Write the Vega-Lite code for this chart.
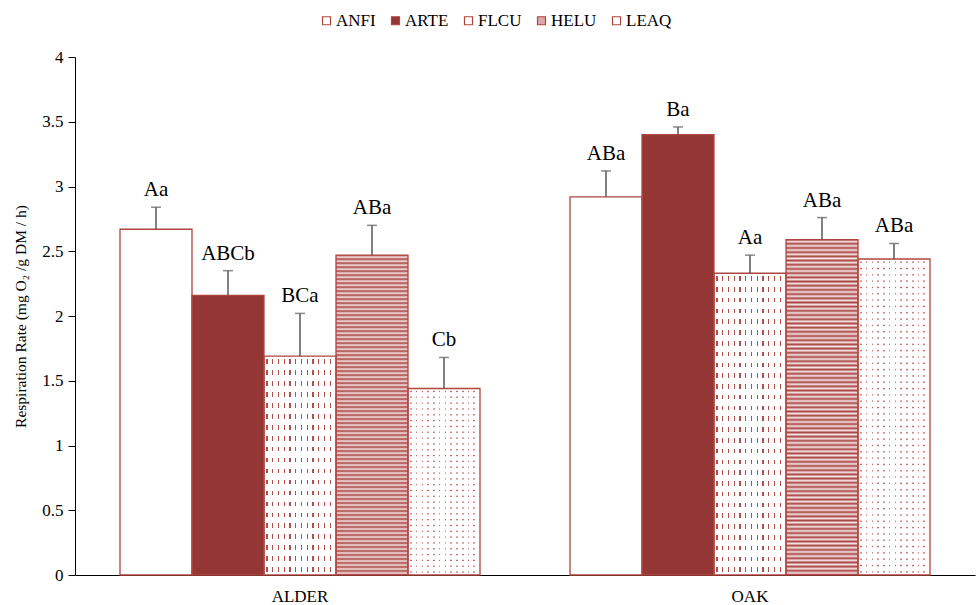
{
"$schema":"https://vega.github.io/schema/vega-lite/v6.json",
"width":900,"height":518,
"autosize":{"type":"none"},
"padding":{"left":75,"top":57,"right":1,"bottom":30},
"background":"#ffffff",
"config":{"view":{"stroke":null},"font":"Liberation Serif, serif","axis":{"labelFont":"Liberation Serif, serif","titleFont":"Liberation Serif, serif"},"legend":{"labelFont":"Liberation Serif, serif"},"text":{"font":"Liberation Serif, serif"}},
"data":{"values":[
{"Category":"ALDER","Species":"ANFI","value":2.67,"upper":2.84,"label":"Aa"},
{"Category":"ALDER","Species":"ARTE","value":2.16,"upper":2.35,"label":"ABCb"},
{"Category":"ALDER","Species":"FLCU","value":1.69,"upper":2.02,"label":"BCa"},
{"Category":"ALDER","Species":"HELU","value":2.47,"upper":2.70,"label":"ABa"},
{"Category":"ALDER","Species":"LEAQ","value":1.44,"upper":1.68,"label":"Cb"},
{"Category":"OAK","Species":"ANFI","value":2.92,"upper":3.12,"label":"ABa"},
{"Category":"OAK","Species":"ARTE","value":3.40,"upper":3.46,"label":"Ba"},
{"Category":"OAK","Species":"FLCU","value":2.33,"upper":2.47,"label":"Aa"},
{"Category":"OAK","Species":"HELU","value":2.59,"upper":2.76,"label":"ABa"},
{"Category":"OAK","Species":"LEAQ","value":2.44,"upper":2.56,"label":"ABa"}
]},
"encoding":{
 "x":{"field":"Category","type":"nominal","scale":{"domain":["ALDER","OAK"],"paddingInner":0.2,"paddingOuter":0.1},"axis":{"title":null,"labelAngle":0,"ticks":false,"domainColor":"#000000","domainWidth":1,"labelFont":"Liberation Serif, serif","labelFontSize":17,"labelColor":"#000000","labelPadding":13}},
 "xOffset":{"field":"Species","type":"nominal","scale":{"domain":["ANFI","ARTE","FLCU","HELU","LEAQ"],"paddingInner":0,"paddingOuter":0}},
 "y":{"field":"value","type":"quantitative","scale":{"domain":[0,4],"nice":false},"axis":{"title":"Respiration Rate (mg O₂ /g DM / h)","values":[0,0.5,1,1.5,2,2.5,3,3.5,4],"format":"~g","grid":false,"domainColor":"#000000","tickColor":"#000000","tickSize":7,"labelFont":"Liberation Serif, serif","labelFontSize":17,"labelColor":"#000000","labelPadding":5,"titleFont":"Liberation Serif, serif","titleFontSize":15.5,"titleFontWeight":"normal","titleColor":"#000000","titlePadding":13}}
},
"layer":[
{"mark":{"type":"bar"},
 "encoding":{"color":{"field":"Species","type":"nominal","scale":{"domain":["ANFI","ARTE","FLCU","HELU","LEAQ"],"range":["#ffffff","#943634","#ffffff","#dba8a8","#ffffff"]},
  "legend":{"orient":"none","legendX":243,"legendY":-45,"direction":"horizontal","title":null,"symbolType":"square","symbolSize":64,"symbolStrokeWidth":1.2,"labelFont":"Liberation Serif, serif","labelFontSize":17,"labelColor":"#000000","columnPadding":11,"labelOffset":1,"padding":0,
   "encode":{"symbols":{"update":{"stroke":{"value":"#b0443f"},"strokeWidth":{"value":1.2}}}}}}}},
{"transform":[{"filter":"datum.Species === 'HELU'"}],
 "mark":{"type":"bar","fill":{"gradient":"linear","x1":0,"y1":0,"x2":0,"y2":1,"stops":[
{"offset":0,"color":"#a94644"},{"offset":0.00625,"color":"#f6e4e4"},{"offset":0.0125,"color":"#a94644"},{"offset":0.01875,"color":"#f6e4e4"},{"offset":0.025,"color":"#a94644"},{"offset":0.03125,"color":"#f6e4e4"},{"offset":0.0375,"color":"#a94644"},{"offset":0.04375,"color":"#f6e4e4"},
{"offset":0.05,"color":"#a94644"},{"offset":0.05625,"color":"#f6e4e4"},{"offset":0.0625,"color":"#a94644"},{"offset":0.06875,"color":"#f6e4e4"},{"offset":0.075,"color":"#a94644"},{"offset":0.08125,"color":"#f6e4e4"},{"offset":0.0875,"color":"#a94644"},{"offset":0.09375,"color":"#f6e4e4"},
{"offset":0.1,"color":"#a94644"},{"offset":0.10625,"color":"#f6e4e4"},{"offset":0.1125,"color":"#a94644"},{"offset":0.11875,"color":"#f6e4e4"},{"offset":0.125,"color":"#a94644"},{"offset":0.13125,"color":"#f6e4e4"},{"offset":0.1375,"color":"#a94644"},{"offset":0.14375,"color":"#f6e4e4"},
{"offset":0.15,"color":"#a94644"},{"offset":0.15625,"color":"#f6e4e4"},{"offset":0.1625,"color":"#a94644"},{"offset":0.16875,"color":"#f6e4e4"},{"offset":0.175,"color":"#a94644"},{"offset":0.18125,"color":"#f6e4e4"},{"offset":0.1875,"color":"#a94644"},{"offset":0.19375,"color":"#f6e4e4"},
{"offset":0.2,"color":"#a94644"},{"offset":0.20625,"color":"#f6e4e4"},{"offset":0.2125,"color":"#a94644"},{"offset":0.21875,"color":"#f6e4e4"},{"offset":0.225,"color":"#a94644"},{"offset":0.23125,"color":"#f6e4e4"},{"offset":0.2375,"color":"#a94644"},{"offset":0.24375,"color":"#f6e4e4"},
{"offset":0.25,"color":"#a94644"},{"offset":0.25625,"color":"#f6e4e4"},{"offset":0.2625,"color":"#a94644"},{"offset":0.26875,"color":"#f6e4e4"},{"offset":0.275,"color":"#a94644"},{"offset":0.28125,"color":"#f6e4e4"},{"offset":0.2875,"color":"#a94644"},{"offset":0.29375,"color":"#f6e4e4"},
{"offset":0.3,"color":"#a94644"},{"offset":0.30625,"color":"#f6e4e4"},{"offset":0.3125,"color":"#a94644"},{"offset":0.31875,"color":"#f6e4e4"},{"offset":0.325,"color":"#a94644"},{"offset":0.33125,"color":"#f6e4e4"},{"offset":0.3375,"color":"#a94644"},{"offset":0.34375,"color":"#f6e4e4"},
{"offset":0.35,"color":"#a94644"},{"offset":0.35625,"color":"#f6e4e4"},{"offset":0.3625,"color":"#a94644"},{"offset":0.36875,"color":"#f6e4e4"},{"offset":0.375,"color":"#a94644"},{"offset":0.38125,"color":"#f6e4e4"},{"offset":0.3875,"color":"#a94644"},{"offset":0.39375,"color":"#f6e4e4"},
{"offset":0.4,"color":"#a94644"},{"offset":0.40625,"color":"#f6e4e4"},{"offset":0.4125,"color":"#a94644"},{"offset":0.41875,"color":"#f6e4e4"},{"offset":0.425,"color":"#a94644"},{"offset":0.43125,"color":"#f6e4e4"},{"offset":0.4375,"color":"#a94644"},{"offset":0.44375,"color":"#f6e4e4"},
{"offset":0.45,"color":"#a94644"},{"offset":0.45625,"color":"#f6e4e4"},{"offset":0.4625,"color":"#a94644"},{"offset":0.46875,"color":"#f6e4e4"},{"offset":0.475,"color":"#a94644"},{"offset":0.48125,"color":"#f6e4e4"},{"offset":0.4875,"color":"#a94644"},{"offset":0.49375,"color":"#f6e4e4"},
{"offset":0.5,"color":"#a94644"},{"offset":0.50625,"color":"#f6e4e4"},{"offset":0.5125,"color":"#a94644"},{"offset":0.51875,"color":"#f6e4e4"},{"offset":0.525,"color":"#a94644"},{"offset":0.53125,"color":"#f6e4e4"},{"offset":0.5375,"color":"#a94644"},{"offset":0.54375,"color":"#f6e4e4"},
{"offset":0.55,"color":"#a94644"},{"offset":0.55625,"color":"#f6e4e4"},{"offset":0.5625,"color":"#a94644"},{"offset":0.56875,"color":"#f6e4e4"},{"offset":0.575,"color":"#a94644"},{"offset":0.58125,"color":"#f6e4e4"},{"offset":0.5875,"color":"#a94644"},{"offset":0.59375,"color":"#f6e4e4"},
{"offset":0.6,"color":"#a94644"},{"offset":0.60625,"color":"#f6e4e4"},{"offset":0.6125,"color":"#a94644"},{"offset":0.61875,"color":"#f6e4e4"},{"offset":0.625,"color":"#a94644"},{"offset":0.63125,"color":"#f6e4e4"},{"offset":0.6375,"color":"#a94644"},{"offset":0.64375,"color":"#f6e4e4"},
{"offset":0.65,"color":"#a94644"},{"offset":0.65625,"color":"#f6e4e4"},{"offset":0.6625,"color":"#a94644"},{"offset":0.66875,"color":"#f6e4e4"},{"offset":0.675,"color":"#a94644"},{"offset":0.68125,"color":"#f6e4e4"},{"offset":0.6875,"color":"#a94644"},{"offset":0.69375,"color":"#f6e4e4"},
{"offset":0.7,"color":"#a94644"},{"offset":0.70625,"color":"#f6e4e4"},{"offset":0.7125,"color":"#a94644"},{"offset":0.71875,"color":"#f6e4e4"},{"offset":0.725,"color":"#a94644"},{"offset":0.73125,"color":"#f6e4e4"},{"offset":0.7375,"color":"#a94644"},{"offset":0.74375,"color":"#f6e4e4"},
{"offset":0.75,"color":"#a94644"},{"offset":0.75625,"color":"#f6e4e4"},{"offset":0.7625,"color":"#a94644"},{"offset":0.76875,"color":"#f6e4e4"},{"offset":0.775,"color":"#a94644"},{"offset":0.78125,"color":"#f6e4e4"},{"offset":0.7875,"color":"#a94644"},{"offset":0.79375,"color":"#f6e4e4"},
{"offset":0.8,"color":"#a94644"},{"offset":0.80625,"color":"#f6e4e4"},{"offset":0.8125,"color":"#a94644"},{"offset":0.81875,"color":"#f6e4e4"},{"offset":0.825,"color":"#a94644"},{"offset":0.83125,"color":"#f6e4e4"},{"offset":0.8375,"color":"#a94644"},{"offset":0.84375,"color":"#f6e4e4"},
{"offset":0.85,"color":"#a94644"},{"offset":0.85625,"color":"#f6e4e4"},{"offset":0.8625,"color":"#a94644"},{"offset":0.86875,"color":"#f6e4e4"},{"offset":0.875,"color":"#a94644"},{"offset":0.88125,"color":"#f6e4e4"},{"offset":0.8875,"color":"#a94644"},{"offset":0.89375,"color":"#f6e4e4"},
{"offset":0.9,"color":"#a94644"},{"offset":0.90625,"color":"#f6e4e4"},{"offset":0.9125,"color":"#a94644"},{"offset":0.91875,"color":"#f6e4e4"},{"offset":0.925,"color":"#a94644"},{"offset":0.93125,"color":"#f6e4e4"},{"offset":0.9375,"color":"#a94644"},{"offset":0.94375,"color":"#f6e4e4"},
{"offset":0.95,"color":"#a94644"},{"offset":0.95625,"color":"#f6e4e4"},{"offset":0.9625,"color":"#a94644"},{"offset":0.96875,"color":"#f6e4e4"},{"offset":0.975,"color":"#a94644"},{"offset":0.98125,"color":"#f6e4e4"},{"offset":0.9875,"color":"#a94644"},{"offset":0.99375,"color":"#f6e4e4"},
{"offset":1,"color":"#a94644"}]}}},
{"transform":[{"filter":"datum.Species === 'FLCU'"}],
 "mark":{"type":"bar","fill":{"gradient":"linear","x1":0,"y1":0,"x2":1,"y2":0,"stops":[
{"offset":0,"color":"#ffffff"},
{"offset":0.031,"color":"#ffffff"},{"offset":0.031,"color":"#b0504e"},{"offset":0.049,"color":"#b0504e"},{"offset":0.049,"color":"#ffffff"},
{"offset":0.111,"color":"#ffffff"},{"offset":0.111,"color":"#b0504e"},{"offset":0.129,"color":"#b0504e"},{"offset":0.129,"color":"#ffffff"},
{"offset":0.191,"color":"#ffffff"},{"offset":0.191,"color":"#b0504e"},{"offset":0.209,"color":"#b0504e"},{"offset":0.209,"color":"#ffffff"},
{"offset":0.271,"color":"#ffffff"},{"offset":0.271,"color":"#b0504e"},{"offset":0.289,"color":"#b0504e"},{"offset":0.289,"color":"#ffffff"},
{"offset":0.351,"color":"#ffffff"},{"offset":0.351,"color":"#b0504e"},{"offset":0.369,"color":"#b0504e"},{"offset":0.369,"color":"#ffffff"},
{"offset":0.431,"color":"#ffffff"},{"offset":0.431,"color":"#b0504e"},{"offset":0.449,"color":"#b0504e"},{"offset":0.449,"color":"#ffffff"},
{"offset":0.511,"color":"#ffffff"},{"offset":0.511,"color":"#b0504e"},{"offset":0.529,"color":"#b0504e"},{"offset":0.529,"color":"#ffffff"},
{"offset":0.591,"color":"#ffffff"},{"offset":0.591,"color":"#b0504e"},{"offset":0.609,"color":"#b0504e"},{"offset":0.609,"color":"#ffffff"},
{"offset":0.671,"color":"#ffffff"},{"offset":0.671,"color":"#b0504e"},{"offset":0.689,"color":"#b0504e"},{"offset":0.689,"color":"#ffffff"},
{"offset":0.751,"color":"#ffffff"},{"offset":0.751,"color":"#b0504e"},{"offset":0.769,"color":"#b0504e"},{"offset":0.769,"color":"#ffffff"},
{"offset":0.831,"color":"#ffffff"},{"offset":0.831,"color":"#b0504e"},{"offset":0.849,"color":"#b0504e"},{"offset":0.849,"color":"#ffffff"},
{"offset":0.911,"color":"#ffffff"},{"offset":0.911,"color":"#b0504e"},{"offset":0.929,"color":"#b0504e"},{"offset":0.929,"color":"#ffffff"},
{"offset":1,"color":"#ffffff"}]}}},
{"transform":[{"filter":"datum.Species === 'LEAQ'"}],
 "mark":{"type":"bar","fill":{"gradient":"linear","x1":0,"y1":0,"x2":1,"y2":0,"stops":[
{"offset":0,"color":"#ffffff"},
{"offset":0.029,"color":"#ffffff"},{"offset":0.029,"color":"#c46664"},{"offset":0.051,"color":"#c46664"},{"offset":0.051,"color":"#ffffff"},
{"offset":0.109,"color":"#ffffff"},{"offset":0.109,"color":"#c46664"},{"offset":0.131,"color":"#c46664"},{"offset":0.131,"color":"#ffffff"},
{"offset":0.189,"color":"#ffffff"},{"offset":0.189,"color":"#c46664"},{"offset":0.211,"color":"#c46664"},{"offset":0.211,"color":"#ffffff"},
{"offset":0.269,"color":"#ffffff"},{"offset":0.269,"color":"#c46664"},{"offset":0.291,"color":"#c46664"},{"offset":0.291,"color":"#ffffff"},
{"offset":0.349,"color":"#ffffff"},{"offset":0.349,"color":"#c46664"},{"offset":0.371,"color":"#c46664"},{"offset":0.371,"color":"#ffffff"},
{"offset":0.429,"color":"#ffffff"},{"offset":0.429,"color":"#c46664"},{"offset":0.451,"color":"#c46664"},{"offset":0.451,"color":"#ffffff"},
{"offset":0.509,"color":"#ffffff"},{"offset":0.509,"color":"#c46664"},{"offset":0.531,"color":"#c46664"},{"offset":0.531,"color":"#ffffff"},
{"offset":0.589,"color":"#ffffff"},{"offset":0.589,"color":"#c46664"},{"offset":0.611,"color":"#c46664"},{"offset":0.611,"color":"#ffffff"},
{"offset":0.669,"color":"#ffffff"},{"offset":0.669,"color":"#c46664"},{"offset":0.691,"color":"#c46664"},{"offset":0.691,"color":"#ffffff"},
{"offset":0.749,"color":"#ffffff"},{"offset":0.749,"color":"#c46664"},{"offset":0.771,"color":"#c46664"},{"offset":0.771,"color":"#ffffff"},
{"offset":0.829,"color":"#ffffff"},{"offset":0.829,"color":"#c46664"},{"offset":0.851,"color":"#c46664"},{"offset":0.851,"color":"#ffffff"},
{"offset":0.909,"color":"#ffffff"},{"offset":0.909,"color":"#c46664"},{"offset":0.931,"color":"#c46664"},{"offset":0.931,"color":"#ffffff"},
{"offset":1,"color":"#ffffff"}]}}},
{"transform":[{"filter":"datum.Species === 'FLCU' && datum.Category === 'ALDER'"}],
 "mark":{"type":"bar","fill":{"gradient":"linear","x1":0,"y1":0,"x2":0,"y2":1,"stops":[
{"offset":0,"color":"#ffffff"},
{"offset":0.0145,"color":"#ffffff"},{"offset":0.0145,"color":"rgba(255,255,255,0)"},{"offset":0.0355,"color":"rgba(255,255,255,0)"},{"offset":0.0355,"color":"#ffffff"},
{"offset":0.0645,"color":"#ffffff"},{"offset":0.0645,"color":"rgba(255,255,255,0)"},{"offset":0.0855,"color":"rgba(255,255,255,0)"},{"offset":0.0855,"color":"#ffffff"},
{"offset":0.1145,"color":"#ffffff"},{"offset":0.1145,"color":"rgba(255,255,255,0)"},{"offset":0.1355,"color":"rgba(255,255,255,0)"},{"offset":0.1355,"color":"#ffffff"},
{"offset":0.1645,"color":"#ffffff"},{"offset":0.1645,"color":"rgba(255,255,255,0)"},{"offset":0.1855,"color":"rgba(255,255,255,0)"},{"offset":0.1855,"color":"#ffffff"},
{"offset":0.2145,"color":"#ffffff"},{"offset":0.2145,"color":"rgba(255,255,255,0)"},{"offset":0.2355,"color":"rgba(255,255,255,0)"},{"offset":0.2355,"color":"#ffffff"},
{"offset":0.2645,"color":"#ffffff"},{"offset":0.2645,"color":"rgba(255,255,255,0)"},{"offset":0.2855,"color":"rgba(255,255,255,0)"},{"offset":0.2855,"color":"#ffffff"},
{"offset":0.3145,"color":"#ffffff"},{"offset":0.3145,"color":"rgba(255,255,255,0)"},{"offset":0.3355,"color":"rgba(255,255,255,0)"},{"offset":0.3355,"color":"#ffffff"},
{"offset":0.3645,"color":"#ffffff"},{"offset":0.3645,"color":"rgba(255,255,255,0)"},{"offset":0.3855,"color":"rgba(255,255,255,0)"},{"offset":0.3855,"color":"#ffffff"},
{"offset":0.4145,"color":"#ffffff"},{"offset":0.4145,"color":"rgba(255,255,255,0)"},{"offset":0.4355,"color":"rgba(255,255,255,0)"},{"offset":0.4355,"color":"#ffffff"},
{"offset":0.4645,"color":"#ffffff"},{"offset":0.4645,"color":"rgba(255,255,255,0)"},{"offset":0.4855,"color":"rgba(255,255,255,0)"},{"offset":0.4855,"color":"#ffffff"},
{"offset":0.5145,"color":"#ffffff"},{"offset":0.5145,"color":"rgba(255,255,255,0)"},{"offset":0.5355,"color":"rgba(255,255,255,0)"},{"offset":0.5355,"color":"#ffffff"},
{"offset":0.5645,"color":"#ffffff"},{"offset":0.5645,"color":"rgba(255,255,255,0)"},{"offset":0.5855,"color":"rgba(255,255,255,0)"},{"offset":0.5855,"color":"#ffffff"},
{"offset":0.6145,"color":"#ffffff"},{"offset":0.6145,"color":"rgba(255,255,255,0)"},{"offset":0.6355,"color":"rgba(255,255,255,0)"},{"offset":0.6355,"color":"#ffffff"},
{"offset":0.6645,"color":"#ffffff"},{"offset":0.6645,"color":"rgba(255,255,255,0)"},{"offset":0.6855,"color":"rgba(255,255,255,0)"},{"offset":0.6855,"color":"#ffffff"},
{"offset":0.7145,"color":"#ffffff"},{"offset":0.7145,"color":"rgba(255,255,255,0)"},{"offset":0.7355,"color":"rgba(255,255,255,0)"},{"offset":0.7355,"color":"#ffffff"},
{"offset":0.7645,"color":"#ffffff"},{"offset":0.7645,"color":"rgba(255,255,255,0)"},{"offset":0.7855,"color":"rgba(255,255,255,0)"},{"offset":0.7855,"color":"#ffffff"},
{"offset":0.8145,"color":"#ffffff"},{"offset":0.8145,"color":"rgba(255,255,255,0)"},{"offset":0.8355,"color":"rgba(255,255,255,0)"},{"offset":0.8355,"color":"#ffffff"},
{"offset":0.8645,"color":"#ffffff"},{"offset":0.8645,"color":"rgba(255,255,255,0)"},{"offset":0.8855,"color":"rgba(255,255,255,0)"},{"offset":0.8855,"color":"#ffffff"},
{"offset":0.9145,"color":"#ffffff"},{"offset":0.9145,"color":"rgba(255,255,255,0)"},{"offset":0.9355,"color":"rgba(255,255,255,0)"},{"offset":0.9355,"color":"#ffffff"},
{"offset":0.9645,"color":"#ffffff"},{"offset":0.9645,"color":"rgba(255,255,255,0)"},{"offset":0.9855,"color":"rgba(255,255,255,0)"},{"offset":0.9855,"color":"#ffffff"},
{"offset":1,"color":"#ffffff"}]}}},
{"transform":[{"filter":"datum.Species === 'FLCU' && datum.Category === 'OAK'"}],
 "mark":{"type":"bar","fill":{"gradient":"linear","x1":0,"y1":0,"x2":0,"y2":1,"stops":[
{"offset":0,"color":"#ffffff"},
{"offset":0.0104,"color":"#ffffff"},{"offset":0.0104,"color":"rgba(255,255,255,0)"},{"offset":0.0254,"color":"rgba(255,255,255,0)"},{"offset":0.0254,"color":"#ffffff"},
{"offset":0.0461,"color":"#ffffff"},{"offset":0.0461,"color":"rgba(255,255,255,0)"},{"offset":0.0611,"color":"rgba(255,255,255,0)"},{"offset":0.0611,"color":"#ffffff"},
{"offset":0.0818,"color":"#ffffff"},{"offset":0.0818,"color":"rgba(255,255,255,0)"},{"offset":0.0968,"color":"rgba(255,255,255,0)"},{"offset":0.0968,"color":"#ffffff"},
{"offset":0.1175,"color":"#ffffff"},{"offset":0.1175,"color":"rgba(255,255,255,0)"},{"offset":0.1325,"color":"rgba(255,255,255,0)"},{"offset":0.1325,"color":"#ffffff"},
{"offset":0.1532,"color":"#ffffff"},{"offset":0.1532,"color":"rgba(255,255,255,0)"},{"offset":0.1682,"color":"rgba(255,255,255,0)"},{"offset":0.1682,"color":"#ffffff"},
{"offset":0.1889,"color":"#ffffff"},{"offset":0.1889,"color":"rgba(255,255,255,0)"},{"offset":0.2039,"color":"rgba(255,255,255,0)"},{"offset":0.2039,"color":"#ffffff"},
{"offset":0.2246,"color":"#ffffff"},{"offset":0.2246,"color":"rgba(255,255,255,0)"},{"offset":0.2396,"color":"rgba(255,255,255,0)"},{"offset":0.2396,"color":"#ffffff"},
{"offset":0.2604,"color":"#ffffff"},{"offset":0.2604,"color":"rgba(255,255,255,0)"},{"offset":0.2754,"color":"rgba(255,255,255,0)"},{"offset":0.2754,"color":"#ffffff"},
{"offset":0.2961,"color":"#ffffff"},{"offset":0.2961,"color":"rgba(255,255,255,0)"},{"offset":0.3111,"color":"rgba(255,255,255,0)"},{"offset":0.3111,"color":"#ffffff"},
{"offset":0.3318,"color":"#ffffff"},{"offset":0.3318,"color":"rgba(255,255,255,0)"},{"offset":0.3468,"color":"rgba(255,255,255,0)"},{"offset":0.3468,"color":"#ffffff"},
{"offset":0.3675,"color":"#ffffff"},{"offset":0.3675,"color":"rgba(255,255,255,0)"},{"offset":0.3825,"color":"rgba(255,255,255,0)"},{"offset":0.3825,"color":"#ffffff"},
{"offset":0.4032,"color":"#ffffff"},{"offset":0.4032,"color":"rgba(255,255,255,0)"},{"offset":0.4182,"color":"rgba(255,255,255,0)"},{"offset":0.4182,"color":"#ffffff"},
{"offset":0.4389,"color":"#ffffff"},{"offset":0.4389,"color":"rgba(255,255,255,0)"},{"offset":0.4539,"color":"rgba(255,255,255,0)"},{"offset":0.4539,"color":"#ffffff"},
{"offset":0.4746,"color":"#ffffff"},{"offset":0.4746,"color":"rgba(255,255,255,0)"},{"offset":0.4896,"color":"rgba(255,255,255,0)"},{"offset":0.4896,"color":"#ffffff"},
{"offset":0.5104,"color":"#ffffff"},{"offset":0.5104,"color":"rgba(255,255,255,0)"},{"offset":0.5254,"color":"rgba(255,255,255,0)"},{"offset":0.5254,"color":"#ffffff"},
{"offset":0.5461,"color":"#ffffff"},{"offset":0.5461,"color":"rgba(255,255,255,0)"},{"offset":0.5611,"color":"rgba(255,255,255,0)"},{"offset":0.5611,"color":"#ffffff"},
{"offset":0.5818,"color":"#ffffff"},{"offset":0.5818,"color":"rgba(255,255,255,0)"},{"offset":0.5968,"color":"rgba(255,255,255,0)"},{"offset":0.5968,"color":"#ffffff"},
{"offset":0.6175,"color":"#ffffff"},{"offset":0.6175,"color":"rgba(255,255,255,0)"},{"offset":0.6325,"color":"rgba(255,255,255,0)"},{"offset":0.6325,"color":"#ffffff"},
{"offset":0.6532,"color":"#ffffff"},{"offset":0.6532,"color":"rgba(255,255,255,0)"},{"offset":0.6682,"color":"rgba(255,255,255,0)"},{"offset":0.6682,"color":"#ffffff"},
{"offset":0.6889,"color":"#ffffff"},{"offset":0.6889,"color":"rgba(255,255,255,0)"},{"offset":0.7039,"color":"rgba(255,255,255,0)"},{"offset":0.7039,"color":"#ffffff"},
{"offset":0.7246,"color":"#ffffff"},{"offset":0.7246,"color":"rgba(255,255,255,0)"},{"offset":0.7396,"color":"rgba(255,255,255,0)"},{"offset":0.7396,"color":"#ffffff"},
{"offset":0.7604,"color":"#ffffff"},{"offset":0.7604,"color":"rgba(255,255,255,0)"},{"offset":0.7754,"color":"rgba(255,255,255,0)"},{"offset":0.7754,"color":"#ffffff"},
{"offset":0.7961,"color":"#ffffff"},{"offset":0.7961,"color":"rgba(255,255,255,0)"},{"offset":0.8111,"color":"rgba(255,255,255,0)"},{"offset":0.8111,"color":"#ffffff"},
{"offset":0.8318,"color":"#ffffff"},{"offset":0.8318,"color":"rgba(255,255,255,0)"},{"offset":0.8468,"color":"rgba(255,255,255,0)"},{"offset":0.8468,"color":"#ffffff"},
{"offset":0.8675,"color":"#ffffff"},{"offset":0.8675,"color":"rgba(255,255,255,0)"},{"offset":0.8825,"color":"rgba(255,255,255,0)"},{"offset":0.8825,"color":"#ffffff"},
{"offset":0.9032,"color":"#ffffff"},{"offset":0.9032,"color":"rgba(255,255,255,0)"},{"offset":0.9182,"color":"rgba(255,255,255,0)"},{"offset":0.9182,"color":"#ffffff"},
{"offset":0.9389,"color":"#ffffff"},{"offset":0.9389,"color":"rgba(255,255,255,0)"},{"offset":0.9539,"color":"rgba(255,255,255,0)"},{"offset":0.9539,"color":"#ffffff"},
{"offset":0.9746,"color":"#ffffff"},{"offset":0.9746,"color":"rgba(255,255,255,0)"},{"offset":0.9896,"color":"rgba(255,255,255,0)"},{"offset":0.9896,"color":"#ffffff"},
{"offset":1,"color":"#ffffff"}]}}},
{"transform":[{"filter":"datum.Species === 'LEAQ' && datum.Category === 'ALDER'"}],
 "mark":{"type":"bar","fill":{"gradient":"linear","x1":0,"y1":0,"x2":0,"y2":1,"stops":[
{"offset":0,"color":"#ffffff"},
{"offset":0.0094,"color":"#ffffff"},{"offset":0.0156,"color":"rgba(255,255,255,0)"},{"offset":0.0219,"color":"#ffffff"},
{"offset":0.0406,"color":"#ffffff"},{"offset":0.0469,"color":"rgba(255,255,255,0)"},{"offset":0.0531,"color":"#ffffff"},
{"offset":0.0719,"color":"#ffffff"},{"offset":0.0781,"color":"rgba(255,255,255,0)"},{"offset":0.0844,"color":"#ffffff"},
{"offset":0.1031,"color":"#ffffff"},{"offset":0.1094,"color":"rgba(255,255,255,0)"},{"offset":0.1156,"color":"#ffffff"},
{"offset":0.1344,"color":"#ffffff"},{"offset":0.1406,"color":"rgba(255,255,255,0)"},{"offset":0.1469,"color":"#ffffff"},
{"offset":0.1656,"color":"#ffffff"},{"offset":0.1719,"color":"rgba(255,255,255,0)"},{"offset":0.1781,"color":"#ffffff"},
{"offset":0.1969,"color":"#ffffff"},{"offset":0.2031,"color":"rgba(255,255,255,0)"},{"offset":0.2094,"color":"#ffffff"},
{"offset":0.2281,"color":"#ffffff"},{"offset":0.2344,"color":"rgba(255,255,255,0)"},{"offset":0.2406,"color":"#ffffff"},
{"offset":0.2594,"color":"#ffffff"},{"offset":0.2656,"color":"rgba(255,255,255,0)"},{"offset":0.2719,"color":"#ffffff"},
{"offset":0.2906,"color":"#ffffff"},{"offset":0.2969,"color":"rgba(255,255,255,0)"},{"offset":0.3031,"color":"#ffffff"},
{"offset":0.3219,"color":"#ffffff"},{"offset":0.3281,"color":"rgba(255,255,255,0)"},{"offset":0.3344,"color":"#ffffff"},
{"offset":0.3531,"color":"#ffffff"},{"offset":0.3594,"color":"rgba(255,255,255,0)"},{"offset":0.3656,"color":"#ffffff"},
{"offset":0.3844,"color":"#ffffff"},{"offset":0.3906,"color":"rgba(255,255,255,0)"},{"offset":0.3969,"color":"#ffffff"},
{"offset":0.4156,"color":"#ffffff"},{"offset":0.4219,"color":"rgba(255,255,255,0)"},{"offset":0.4281,"color":"#ffffff"},
{"offset":0.4469,"color":"#ffffff"},{"offset":0.4531,"color":"rgba(255,255,255,0)"},{"offset":0.4594,"color":"#ffffff"},
{"offset":0.4781,"color":"#ffffff"},{"offset":0.4844,"color":"rgba(255,255,255,0)"},{"offset":0.4906,"color":"#ffffff"},
{"offset":0.5094,"color":"#ffffff"},{"offset":0.5156,"color":"rgba(255,255,255,0)"},{"offset":0.5219,"color":"#ffffff"},
{"offset":0.5406,"color":"#ffffff"},{"offset":0.5469,"color":"rgba(255,255,255,0)"},{"offset":0.5531,"color":"#ffffff"},
{"offset":0.5719,"color":"#ffffff"},{"offset":0.5781,"color":"rgba(255,255,255,0)"},{"offset":0.5844,"color":"#ffffff"},
{"offset":0.6031,"color":"#ffffff"},{"offset":0.6094,"color":"rgba(255,255,255,0)"},{"offset":0.6156,"color":"#ffffff"},
{"offset":0.6344,"color":"#ffffff"},{"offset":0.6406,"color":"rgba(255,255,255,0)"},{"offset":0.6469,"color":"#ffffff"},
{"offset":0.6656,"color":"#ffffff"},{"offset":0.6719,"color":"rgba(255,255,255,0)"},{"offset":0.6781,"color":"#ffffff"},
{"offset":0.6969,"color":"#ffffff"},{"offset":0.7031,"color":"rgba(255,255,255,0)"},{"offset":0.7094,"color":"#ffffff"},
{"offset":0.7281,"color":"#ffffff"},{"offset":0.7344,"color":"rgba(255,255,255,0)"},{"offset":0.7406,"color":"#ffffff"},
{"offset":0.7594,"color":"#ffffff"},{"offset":0.7656,"color":"rgba(255,255,255,0)"},{"offset":0.7719,"color":"#ffffff"},
{"offset":0.7906,"color":"#ffffff"},{"offset":0.7969,"color":"rgba(255,255,255,0)"},{"offset":0.8031,"color":"#ffffff"},
{"offset":0.8219,"color":"#ffffff"},{"offset":0.8281,"color":"rgba(255,255,255,0)"},{"offset":0.8344,"color":"#ffffff"},
{"offset":0.8531,"color":"#ffffff"},{"offset":0.8594,"color":"rgba(255,255,255,0)"},{"offset":0.8656,"color":"#ffffff"},
{"offset":0.8844,"color":"#ffffff"},{"offset":0.8906,"color":"rgba(255,255,255,0)"},{"offset":0.8969,"color":"#ffffff"},
{"offset":0.9156,"color":"#ffffff"},{"offset":0.9219,"color":"rgba(255,255,255,0)"},{"offset":0.9281,"color":"#ffffff"},
{"offset":0.9469,"color":"#ffffff"},{"offset":0.9531,"color":"rgba(255,255,255,0)"},{"offset":0.9594,"color":"#ffffff"},
{"offset":0.9781,"color":"#ffffff"},{"offset":0.9844,"color":"rgba(255,255,255,0)"},{"offset":0.9906,"color":"#ffffff"},
{"offset":1,"color":"#ffffff"}]}}},
{"transform":[{"filter":"datum.Species === 'LEAQ' && datum.Category === 'OAK'"}],
 "mark":{"type":"bar","fill":{"gradient":"linear","x1":0,"y1":0,"x2":0,"y2":1,"stops":[
{"offset":0,"color":"#ffffff"},
{"offset":0.006,"color":"#ffffff"},{"offset":0.01,"color":"rgba(255,255,255,0)"},{"offset":0.014,"color":"#ffffff"},
{"offset":0.026,"color":"#ffffff"},{"offset":0.03,"color":"rgba(255,255,255,0)"},{"offset":0.034,"color":"#ffffff"},
{"offset":0.046,"color":"#ffffff"},{"offset":0.05,"color":"rgba(255,255,255,0)"},{"offset":0.054,"color":"#ffffff"},
{"offset":0.066,"color":"#ffffff"},{"offset":0.07,"color":"rgba(255,255,255,0)"},{"offset":0.074,"color":"#ffffff"},
{"offset":0.086,"color":"#ffffff"},{"offset":0.09,"color":"rgba(255,255,255,0)"},{"offset":0.094,"color":"#ffffff"},
{"offset":0.106,"color":"#ffffff"},{"offset":0.11,"color":"rgba(255,255,255,0)"},{"offset":0.114,"color":"#ffffff"},
{"offset":0.126,"color":"#ffffff"},{"offset":0.13,"color":"rgba(255,255,255,0)"},{"offset":0.134,"color":"#ffffff"},
{"offset":0.146,"color":"#ffffff"},{"offset":0.15,"color":"rgba(255,255,255,0)"},{"offset":0.154,"color":"#ffffff"},
{"offset":0.166,"color":"#ffffff"},{"offset":0.17,"color":"rgba(255,255,255,0)"},{"offset":0.174,"color":"#ffffff"},
{"offset":0.186,"color":"#ffffff"},{"offset":0.19,"color":"rgba(255,255,255,0)"},{"offset":0.194,"color":"#ffffff"},
{"offset":0.206,"color":"#ffffff"},{"offset":0.21,"color":"rgba(255,255,255,0)"},{"offset":0.214,"color":"#ffffff"},
{"offset":0.226,"color":"#ffffff"},{"offset":0.23,"color":"rgba(255,255,255,0)"},{"offset":0.234,"color":"#ffffff"},
{"offset":0.246,"color":"#ffffff"},{"offset":0.25,"color":"rgba(255,255,255,0)"},{"offset":0.254,"color":"#ffffff"},
{"offset":0.266,"color":"#ffffff"},{"offset":0.27,"color":"rgba(255,255,255,0)"},{"offset":0.274,"color":"#ffffff"},
{"offset":0.286,"color":"#ffffff"},{"offset":0.29,"color":"rgba(255,255,255,0)"},{"offset":0.294,"color":"#ffffff"},
{"offset":0.306,"color":"#ffffff"},{"offset":0.31,"color":"rgba(255,255,255,0)"},{"offset":0.314,"color":"#ffffff"},
{"offset":0.326,"color":"#ffffff"},{"offset":0.33,"color":"rgba(255,255,255,0)"},{"offset":0.334,"color":"#ffffff"},
{"offset":0.346,"color":"#ffffff"},{"offset":0.35,"color":"rgba(255,255,255,0)"},{"offset":0.354,"color":"#ffffff"},
{"offset":0.366,"color":"#ffffff"},{"offset":0.37,"color":"rgba(255,255,255,0)"},{"offset":0.374,"color":"#ffffff"},
{"offset":0.386,"color":"#ffffff"},{"offset":0.39,"color":"rgba(255,255,255,0)"},{"offset":0.394,"color":"#ffffff"},
{"offset":0.406,"color":"#ffffff"},{"offset":0.41,"color":"rgba(255,255,255,0)"},{"offset":0.414,"color":"#ffffff"},
{"offset":0.426,"color":"#ffffff"},{"offset":0.43,"color":"rgba(255,255,255,0)"},{"offset":0.434,"color":"#ffffff"},
{"offset":0.446,"color":"#ffffff"},{"offset":0.45,"color":"rgba(255,255,255,0)"},{"offset":0.454,"color":"#ffffff"},
{"offset":0.466,"color":"#ffffff"},{"offset":0.47,"color":"rgba(255,255,255,0)"},{"offset":0.474,"color":"#ffffff"},
{"offset":0.486,"color":"#ffffff"},{"offset":0.49,"color":"rgba(255,255,255,0)"},{"offset":0.494,"color":"#ffffff"},
{"offset":0.506,"color":"#ffffff"},{"offset":0.51,"color":"rgba(255,255,255,0)"},{"offset":0.514,"color":"#ffffff"},
{"offset":0.526,"color":"#ffffff"},{"offset":0.53,"color":"rgba(255,255,255,0)"},{"offset":0.534,"color":"#ffffff"},
{"offset":0.546,"color":"#ffffff"},{"offset":0.55,"color":"rgba(255,255,255,0)"},{"offset":0.554,"color":"#ffffff"},
{"offset":0.566,"color":"#ffffff"},{"offset":0.57,"color":"rgba(255,255,255,0)"},{"offset":0.574,"color":"#ffffff"},
{"offset":0.586,"color":"#ffffff"},{"offset":0.59,"color":"rgba(255,255,255,0)"},{"offset":0.594,"color":"#ffffff"},
{"offset":0.606,"color":"#ffffff"},{"offset":0.61,"color":"rgba(255,255,255,0)"},{"offset":0.614,"color":"#ffffff"},
{"offset":0.626,"color":"#ffffff"},{"offset":0.63,"color":"rgba(255,255,255,0)"},{"offset":0.634,"color":"#ffffff"},
{"offset":0.646,"color":"#ffffff"},{"offset":0.65,"color":"rgba(255,255,255,0)"},{"offset":0.654,"color":"#ffffff"},
{"offset":0.666,"color":"#ffffff"},{"offset":0.67,"color":"rgba(255,255,255,0)"},{"offset":0.674,"color":"#ffffff"},
{"offset":0.686,"color":"#ffffff"},{"offset":0.69,"color":"rgba(255,255,255,0)"},{"offset":0.694,"color":"#ffffff"},
{"offset":0.706,"color":"#ffffff"},{"offset":0.71,"color":"rgba(255,255,255,0)"},{"offset":0.714,"color":"#ffffff"},
{"offset":0.726,"color":"#ffffff"},{"offset":0.73,"color":"rgba(255,255,255,0)"},{"offset":0.734,"color":"#ffffff"},
{"offset":0.746,"color":"#ffffff"},{"offset":0.75,"color":"rgba(255,255,255,0)"},{"offset":0.754,"color":"#ffffff"},
{"offset":0.766,"color":"#ffffff"},{"offset":0.77,"color":"rgba(255,255,255,0)"},{"offset":0.774,"color":"#ffffff"},
{"offset":0.786,"color":"#ffffff"},{"offset":0.79,"color":"rgba(255,255,255,0)"},{"offset":0.794,"color":"#ffffff"},
{"offset":0.806,"color":"#ffffff"},{"offset":0.81,"color":"rgba(255,255,255,0)"},{"offset":0.814,"color":"#ffffff"},
{"offset":0.826,"color":"#ffffff"},{"offset":0.83,"color":"rgba(255,255,255,0)"},{"offset":0.834,"color":"#ffffff"},
{"offset":0.846,"color":"#ffffff"},{"offset":0.85,"color":"rgba(255,255,255,0)"},{"offset":0.854,"color":"#ffffff"},
{"offset":0.866,"color":"#ffffff"},{"offset":0.87,"color":"rgba(255,255,255,0)"},{"offset":0.874,"color":"#ffffff"},
{"offset":0.886,"color":"#ffffff"},{"offset":0.89,"color":"rgba(255,255,255,0)"},{"offset":0.894,"color":"#ffffff"},
{"offset":0.906,"color":"#ffffff"},{"offset":0.91,"color":"rgba(255,255,255,0)"},{"offset":0.914,"color":"#ffffff"},
{"offset":0.926,"color":"#ffffff"},{"offset":0.93,"color":"rgba(255,255,255,0)"},{"offset":0.934,"color":"#ffffff"},
{"offset":0.946,"color":"#ffffff"},{"offset":0.95,"color":"rgba(255,255,255,0)"},{"offset":0.954,"color":"#ffffff"},
{"offset":0.966,"color":"#ffffff"},{"offset":0.97,"color":"rgba(255,255,255,0)"},{"offset":0.974,"color":"#ffffff"},
{"offset":0.986,"color":"#ffffff"},{"offset":0.99,"color":"rgba(255,255,255,0)"},{"offset":0.994,"color":"#ffffff"},
{"offset":1,"color":"#ffffff"}]}}},
{"mark":{"type":"bar","fillOpacity":0,"stroke":"#b0443f","strokeWidth":1.3}},
{"mark":{"type":"rule","color":"#595959","strokeWidth":1.5},
 "encoding":{"y":{"field":"value","type":"quantitative"},"y2":{"field":"upper"}}},
{"mark":{"type":"tick","color":"#595959","thickness":1.5,"size":10},
 "encoding":{"y":{"field":"upper","type":"quantitative"}}},
{"mark":{"type":"text","fontSize":21,"dy":-11,"baseline":"alphabetic","color":"#000000","font":"Liberation Serif, serif"},
 "encoding":{"y":{"field":"upper","type":"quantitative"},"text":{"field":"label"}}}
]
}
